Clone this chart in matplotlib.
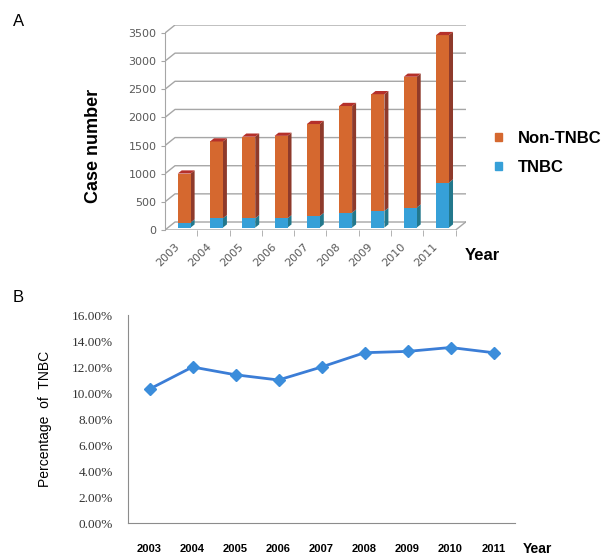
import numpy as np
import matplotlib
matplotlib.use("Agg")
import matplotlib.pyplot as plt
from matplotlib.patches import Polygon, Patch
from matplotlib.ticker import PercentFormatter

years = ["2003", "2004", "2005", "2006", "2007", "2008", "2009", "2010", "2011"]
tnbc = [90, 165, 165, 165, 205, 265, 295, 355, 800]
non_tnbc = [870, 1365, 1450, 1465, 1635, 1895, 2075, 2325, 2620]
tnbc_pct = [10.3, 12.0, 11.4, 11.0, 12.0, 13.1, 13.2, 13.5, 13.1]

plt.rcParams['font.family'] = ['Liberation Sans', 'DejaVu Sans']

fig = plt.figure(figsize=(6.1, 5.58), dpi=100)

# ---- panel A: pseudo 3D stacked columns ----
ax = fig.add_axes([165/610, 1 - 230/558, 300.7/610, 205/558])

ddx = 0.31    # depth of the box along x (category units)
ddy = 142     # depth of the box along y (case units)
f = 0.3       # depth where the bar front face sits
bd = 0.4      # depth of each bar
w = 0.4
x = np.arange(len(years))
xl, xr = -0.5, len(years) - 0.5

grid_c = "#a6a6a6"
for v in range(0, 4000, 500):
    ax.plot([xl, xl + ddx, xr + ddx], [v, v + ddy, v + ddy], color=grid_c, lw=1, zorder=1)
ax.plot([xl, xr, xr + ddx], [0, 0, ddy], color=grid_c, lw=1, zorder=1)

orange, orange_side, cap = "#d5682f", "#8e3a2b", "#b5302a"
blue, blue_side = "#36a0d8", "#23788c"

total = np.array(tnbc) + np.array(non_tnbc)
cx = x + f * ddx
y0 = f * ddy
ax.bar(cx, tnbc, w, bottom=y0, color=blue, zorder=3)
ax.bar(cx, non_tnbc, w, bottom=y0 + np.array(tnbc), color=orange, zorder=3)

sx, sy = bd * ddx, bd * ddy
for c, t, tot in zip(cx, tnbc, total):
    r = c + w / 2
    segs = [(y0, y0 + t, blue_side), (y0 + t, y0 + tot, orange_side)]
    for b, top, col in segs:
        ax.add_patch(Polygon([(r, b), (r + sx, b + sy), (r + sx, top + sy), (r, top)],
                             closed=True, color=col, lw=0, zorder=2))
    top = y0 + tot
    ax.add_patch(Polygon([(c - w / 2, top), (r, top), (r + sx, top + sy), (c - w / 2 + sx, top + sy)],
                         closed=True, color=cap, lw=0, zorder=3))

ax.set_xlim(xl, xr + ddx)
ax.set_ylim(0, 3500 + ddy)
for s in ["top", "right", "bottom"]:
    ax.spines[s].set_visible(False)
ax.spines["left"].set_bounds(0, 3500)
ax.spines["left"].set_color(grid_c)
ax.set_yticks(range(0, 4000, 500))
ax.tick_params(axis="y", length=3, color=grid_c, labelsize=8, labelcolor="#595959", pad=3)
ax.set_xticks(x)
ax.set_xticklabels(years, rotation=45, ha="right", va="top")
ax.set_xticks(np.arange(xl + 1, xr + 0.5), minor=True)
ax.tick_params(axis="x", which="major", length=0, labelsize=8, labelcolor="#595959", pad=8)
ax.tick_params(axis="x", which="minor", length=4, color=grid_c)
for lab in ax.get_xticklabels() + ax.get_yticklabels():
    lab.set_family("DejaVu Sans")
ax.set_ylabel("Case number", fontsize=13, fontweight="bold")
ax.yaxis.set_label_coords(-0.21, 0.41)
fig.text(465/610, 1 - 255/558, "Year", fontsize=12, fontweight="bold", va="center")
ax.legend(handles=[Patch(color=orange), Patch(color=blue)], labels=["Non-TNBC", "TNBC"],
          loc="upper left", bbox_to_anchor=(495/610, 1 - 131/558), bbox_transform=fig.transFigure,
          frameon=False, borderpad=0, borderaxespad=0, handlelength=0.4, handleheight=0.4,
          handletextpad=1.0, labelspacing=0.85, prop={"weight": "bold", "size": 12})
fig.text(13/610, 1 - 21/558, "A", fontsize=12, va="center")

# ---- panel B: TNBC percentage ----
ax2 = fig.add_axes([128/610, 1 - 523/558, 387/610, 208/558])
ax2.plot(x, np.array(tnbc_pct) / 100, color="#3b7dd6", lw=2, marker="D", ms=6,
         markerfacecolor="#3b8ddb", markeredgecolor="#3b8ddb")
ax2.set_xlim(-0.5, len(years) - 0.5)
ax2.set_ylim(0, 0.16)
ax2.set_yticks(np.arange(0, 0.17, 0.02))
ax2.yaxis.set_major_formatter(PercentFormatter(1.0, decimals=2))
ax2.set_xticks(x)
ax2.set_xticklabels(years, fontweight="bold")
for s in ["top", "right"]:
    ax2.spines[s].set_visible(False)
for s in ["left", "bottom"]:
    ax2.spines[s].set_color("#8c8c8c")
ax2.tick_params(axis="y", length=0, pad=11, labelsize=9.5, labelcolor="#333333")
ax2.tick_params(axis="x", length=0, pad=15, labelsize=8)
for lab in ax2.get_yticklabels():
    lab.set_family("Liberation Serif")
ax2.set_ylabel("Percentage  of  TNBC", fontsize=10, labelpad=14)
fig.text(523/610, 1 - 549/558, "Year", fontsize=10, fontweight="bold", va="center")
fig.text(13/610, 1 - 298/558, "B", fontsize=12, va="center")

fig.savefig("out.png", dpi=100)
